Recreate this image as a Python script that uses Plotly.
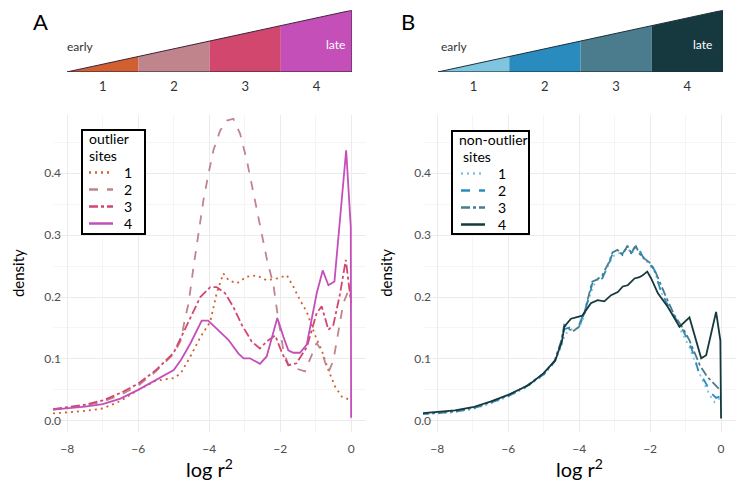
import plotly.graph_objects as go

# ---- data ----
stages = ["1", "2", "3", "4"]

out_colors = ["#D0602F", "#C0848C", "#D1476E", "#C44FB9"]
non_colors = ["#7FC5E0", "#2A8BBF", "#4A7C8E", "#15393F"]
dashes = ["2px,4px", "dash", "dashdot", "solid"]

# outlier sites (panel A)
out_x1 = [-8.4, -7.5, -7.0, -6.5, -6.0, -5.5, -5.0, -4.8, -4.53, -4.25, -3.97, -3.79, -3.6, -3.45,
          -3.22, -2.94, -2.66, -2.38, -2.09, -1.81, -1.63, -1.44, -1.25, -1.02, -0.83, -0.64,
          -0.45, -0.26, -0.12, 0.0]
out_y1 = [0.012, 0.016, 0.02, 0.032, 0.05, 0.065, 0.069, 0.077, 0.104, 0.135, 0.16, 0.206, 0.238,
          0.227, 0.222, 0.233, 0.235, 0.227, 0.23, 0.235, 0.217, 0.195, 0.176, 0.139, 0.114, 0.082,
          0.055, 0.039, 0.036, 0.03]

out_x2 = [-8.4, -7.5, -7.0, -6.5, -6.0, -5.5, -5.0, -4.8, -4.67, -4.58, -4.44, -4.30, -4.16, -4.02,
          -3.88, -3.69, -3.50, -3.32, -3.13, -2.94, -2.75, -2.56, -2.37, -2.19, -2.09, -1.91,
          -1.77, -1.58, -1.30, -1.12, -0.97, -0.83, -0.64, -0.50, -0.36, -0.22, -0.08, -0.02, 0.0]
out_y2 = [0.018, 0.025, 0.031, 0.042, 0.057, 0.08, 0.108, 0.13, 0.168, 0.19, 0.249, 0.303, 0.357,
          0.399, 0.437, 0.469, 0.485, 0.488, 0.464, 0.421, 0.367, 0.314, 0.260, 0.22, 0.179,
          0.114, 0.09, 0.085, 0.080, 0.105, 0.126, 0.112, 0.078, 0.098, 0.141, 0.19, 0.21, 0.215,
          0.18]

out_x3 = [-8.4, -7.5, -7.0, -6.5, -6.0, -5.5, -5.0, -4.53, -4.25, -3.97, -3.79, -3.55, -3.32, -3.08,
          -2.80, -2.57, -2.38, -2.14, -1.95, -1.77, -1.54, -1.25, -0.97, -0.83, -0.64, -0.50,
          -0.31, -0.15, -0.02, 0.0]
out_y3 = [0.019, 0.026, 0.033, 0.045, 0.06, 0.082, 0.11, 0.168, 0.2, 0.216, 0.216, 0.206, 0.184,
          0.155, 0.128, 0.117, 0.128, 0.138, 0.11, 0.09, 0.093, 0.119, 0.174, 0.185, 0.147, 0.155,
          0.206, 0.26, 0.2, 0.19]

out_x4 = [-8.4, -7.5, -7.0, -6.5, -6.0, -5.5, -5.0, -4.8, -4.53, -4.21, -4.03, -3.79, -3.46, -3.18,
          -3.03, -2.85, -2.57, -2.38, -2.08, -1.91, -1.77, -1.63, -1.44, -1.25, -0.97, -0.80,
          -0.64, -0.47, -0.30, -0.14, -0.01, 0.0]
out_y4 = [0.018, 0.023, 0.027, 0.036, 0.05, 0.066, 0.082, 0.098, 0.125, 0.162, 0.162, 0.149, 0.131,
          0.109, 0.101, 0.101, 0.092, 0.104, 0.166, 0.136, 0.114, 0.110, 0.110, 0.123, 0.206,
          0.243, 0.219, 0.225, 0.33, 0.437, 0.313, 0.005]

# non-outlier sites (panel B)
non_x1 = [-8.48, -7.5, -7.0, -6.5, -6.0, -5.5, -5.0, -4.7, -4.5, -4.4, -4.2, -4.0, -3.86, -3.72,
          -3.6, -3.48, -3.33, -3.18, -3.05, -2.9, -2.78, -2.62, -2.52, -2.42, -2.3, -2.16, -2.0,
          -1.86, -1.72, -1.55, -1.3, -1.1, -0.9, -0.75, -0.62, -0.48, -0.3, -0.18, 0.0]
non_y1 = [0.01, 0.014, 0.019, 0.028, 0.039, 0.054, 0.074, 0.094, 0.12, 0.14, 0.148, 0.15, 0.168,
          0.198, 0.218, 0.228, 0.232, 0.25, 0.266, 0.27, 0.274, 0.278, 0.27, 0.28, 0.274, 0.262,
          0.25, 0.24, 0.212, 0.19, 0.165, 0.142, 0.12, 0.098, 0.078, 0.06, 0.04, 0.03, 0.038]

non_x2 = [-8.48, -7.5, -7.0, -6.5, -6.0, -5.5, -5.0, -4.7, -4.5, -4.42, -4.2, -4.0, -3.86, -3.72,
          -3.63, -3.5, -3.35, -3.16, -3.06, -2.92, -2.78, -2.64, -2.54, -2.40, -2.30, -2.16,
          -2.02, -1.88, -1.74, -1.55, -1.31, -1.08, -0.89, -0.75, -0.65, -0.51, -0.28, -0.14, 0.0]
non_y2 = [0.011, 0.015, 0.02, 0.029, 0.04, 0.055, 0.075, 0.095, 0.125, 0.148, 0.152, 0.155, 0.175,
          0.2, 0.222, 0.225, 0.23, 0.254, 0.27, 0.273, 0.27, 0.281, 0.27, 0.284, 0.276, 0.26,
          0.254, 0.244, 0.217, 0.192, 0.168, 0.147, 0.125, 0.104, 0.082, 0.069, 0.045, 0.037, 0.04]

non_x3 = [-8.48, -7.5, -7.0, -6.5, -6.0, -5.5, -5.0, -4.7, -4.5, -4.42, -4.19, -4.0, -3.86, -3.72,
          -3.63, -3.5, -3.35, -3.16, -3.06, -2.92, -2.78, -2.64, -2.54, -2.40, -2.30, -2.16,
          -2.02, -1.88, -1.74, -1.55, -1.31, -1.08, -0.89, -0.75, -0.6, -0.4, -0.2, -0.08, 0.0]
non_y3 = [0.011, 0.015, 0.021, 0.03, 0.041, 0.056, 0.076, 0.096, 0.13, 0.155, 0.144, 0.152, 0.173,
          0.205, 0.225, 0.228, 0.235, 0.256, 0.272, 0.276, 0.268, 0.283, 0.272, 0.282, 0.27, 0.262,
          0.256, 0.245, 0.225, 0.2, 0.17, 0.15, 0.13, 0.11, 0.09, 0.072, 0.06, 0.052, 0.048]

non_x4 = [-8.48, -7.5, -7.0, -6.5, -6.0, -5.42, -5.0, -4.67, -4.48, -4.42, -4.23, -3.91, -3.67,
          -3.48, -3.29, -3.10, -2.91, -2.77, -2.63, -2.44, -2.30, -2.21, -2.08, -1.97, -1.78,
          -1.50, -1.17, -0.89, -0.56, -0.42, -0.28, -0.14, -0.02, 0.0]
non_y4 = [0.012, 0.017, 0.022, 0.031, 0.042, 0.058, 0.077, 0.098, 0.13, 0.152, 0.165, 0.17, 0.19,
          0.195, 0.193, 0.203, 0.208, 0.217, 0.219, 0.23, 0.232, 0.235, 0.241, 0.23, 0.206, 0.184,
          0.152, 0.167, 0.101, 0.106, 0.141, 0.176, 0.13, 0.004]

out_series = [(out_x1, out_y1), (out_x2, out_y2), (out_x3, out_y3), (out_x4, out_y4)]
non_series = [(non_x1, non_y1), (non_x2, non_y2), (non_x3, non_y3), (non_x4, non_y4)]

FONT = "Lato"
W, H = 749, 486
fig = go.Figure()

# density curves
for i, (xs, ys) in enumerate(out_series):
    fig.add_trace(go.Scatter(x=xs, y=ys, mode="lines", name=stages[i], showlegend=False,
                             line=dict(color=out_colors[i], dash=dashes[i], width=1.8),
                             xaxis="x", yaxis="y"))
for i, (xs, ys) in enumerate(non_series):
    fig.add_trace(go.Scatter(x=xs, y=ys, mode="lines", name=stages[i], showlegend=False,
                             line=dict(color=non_colors[i], dash=dashes[i], width=1.8),
                             xaxis="x2", yaxis="y2"))

# stage wedges on top
for ax, cols, edge in [("3", out_colors, "#3d233a"), ("4", non_colors, "#1c3038")]:
    n = len(stages)
    for i in range(n):
        fig.add_trace(go.Scatter(x=[i, i + 1, i + 1, i, i], y=[0, 0, (i + 1) / n, i / n, 0],
                                 fill="toself", fillcolor=cols[i], mode="lines",
                                 line=dict(width=0, color=cols[i]), showlegend=False,
                                 hoverinfo="skip", xaxis="x" + ax, yaxis="y" + ax))
    fig.add_trace(go.Scatter(x=[0, n, n, 0], y=[0, 1, 0, 0], mode="lines",
                             line=dict(color=edge, width=1), showlegend=False,
                             hoverinfo="skip", xaxis="x" + ax, yaxis="y" + ax))

main_x = dict(range=[-8.4, 0.42], tickvals=[-8, -6, -4, -2, 0],
              ticktext=["\u22128", "\u22126", "\u22124", "\u22122", "0"],
              showgrid=True, gridcolor="#EBEBEB", gridwidth=1, zeroline=False, showline=False,
              ticks="", ticklabelstandoff=8, tickfont=dict(size=12, color="#4D4D4D", family=FONT),
              minor=dict(dtick=1, tick0=0, showgrid=True, gridcolor="#F5F5F5", gridwidth=1))
main_y = dict(range=[-0.018, 0.494], tickvals=[0, 0.1, 0.2, 0.3, 0.4],
              ticktext=["0.0", "0.1", "0.2", "0.3", "0.4"],
              showgrid=True, gridcolor="#EBEBEB", gridwidth=1, zeroline=False, showline=False,
              ticks="", ticklabelstandoff=-9, tickfont=dict(size=12, color="#4D4D4D", family=FONT),
              minor=dict(dtick=0.05, tick0=0, showgrid=True, gridcolor="#F5F5F5", gridwidth=1))
inset_x = dict(range=[0, 4], tickvals=[0.5, 1.5, 2.5, 3.5], ticktext=stages, showgrid=False,
               zeroline=False, showline=False, ticks="", fixedrange=True, ticklabelstandoff=5,
               tickfont=dict(size=13, color="#333333", family=FONT))
inset_y = dict(range=[0, 1], visible=False, fixedrange=True)

fig.update_layout(
    width=W, height=H,
    margin=dict(l=0, r=0, t=0, b=0),
    paper_bgcolor="white", plot_bgcolor="white",
    font=dict(family=FONT, color="black"),
    xaxis=dict(domain=[0.0708, 0.4887], anchor="y", **main_x),
    yaxis=dict(domain=[0.1111, 0.7634], anchor="x", **main_y),
    xaxis2=dict(domain=[0.5648, 0.9826], anchor="y2", **main_x),
    yaxis2=dict(domain=[0.1111, 0.7634], anchor="x2", **main_y),
    xaxis3=dict(domain=[0.0895, 0.470], anchor="y3", **inset_x),
    yaxis3=dict(domain=[0.852, 0.979], anchor="x3", **inset_y),
    xaxis4=dict(domain=[0.5848, 0.9653], anchor="y4", **inset_x),
    yaxis4=dict(domain=[0.852, 0.979], anchor="x4", **inset_y),
    showlegend=False,
)


def px(x):
    return x / W


def py(y):
    return 1 - y / H


# hand-laid legend boxes (ggplot style: tight rows, black frame)
def add_legend(box, title_lines, title_indent, colors, key_x, label_x):
    x0, y0, x1, y1 = box
    fig.add_shape(type="rect", xref="paper", yref="paper", x0=px(x0), x1=px(x1),
                  y0=py(y1), y1=py(y0), line=dict(color="black", width=2),
                  fillcolor="white", layer="above")
    row = 17
    ty = y0 + 8.5
    for j, t in enumerate(title_lines):
        fig.add_annotation(text=t, x=px(x0 + 5 + title_indent[j]), y=py(ty + j * row),
                           xref="paper", yref="paper", xanchor="left", yanchor="middle",
                           showarrow=False, font=dict(size=14, family=FONT, color="black"))
    for i, lab in enumerate(stages):
        yy = ty + (len(title_lines) + i) * row
        fig.add_shape(type="line", xref="paper", yref="paper", x0=px(key_x[0]), x1=px(key_x[1]),
                      y0=py(yy), y1=py(yy), layer="above",
                      line=dict(color=colors[i], width=2.5, dash=dashes[i]))
        fig.add_annotation(text=lab, x=px(label_x), y=py(yy), xref="paper", yref="paper",
                           xanchor="center", yanchor="middle", showarrow=False,
                           font=dict(size=14, family=FONT, color="black"))


add_legend((82, 130, 145, 234), ["outlier", "sites"], [0, 0], out_colors, (89, 113), 128)
add_legend((452, 131, 529, 234), ["non-outlier", "sites"], [0, 4], non_colors, (461, 485), 502)

ann = [
    dict(text="A", x=0.054, y=0.955, xref="paper", yref="paper", font=dict(size=22)),
    dict(text="B", x=0.545, y=0.955, xref="paper", yref="paper", font=dict(size=22)),
    dict(text="early", x=0.0, y=0.42, xref="x3", yref="y3", xanchor="left", xshift=-2,
         font=dict(size=12, color="#333333")),
    dict(text="late", x=3.93, y=0.45, xref="x3", yref="y3", xanchor="right",
         font=dict(size=12, color="white")),
    dict(text="early", x=0.02, y=0.42, xref="x4", yref="y4", xanchor="left",
         font=dict(size=12, color="#333333")),
    dict(text="late", x=3.88, y=0.45, xref="x4", yref="y4", xanchor="right",
         font=dict(size=12, color="white")),
    dict(text="density", x=0.024, y=0.438, xref="paper", yref="paper", textangle=-90,
         font=dict(size=15)),
    dict(text="density", x=0.515, y=0.438, xref="paper", yref="paper", textangle=-90,
         font=dict(size=15)),
    dict(text="log r<sup>2</sup>", x=0.2797, y=0.037, xref="paper", yref="paper",
         font=dict(size=20)),
    dict(text="log r<sup>2</sup>", x=0.7737, y=0.037, xref="paper", yref="paper",
         font=dict(size=20)),
]
for a in ann:
    a.setdefault("showarrow", False)
    a.setdefault("xanchor", "center")
    a.setdefault("yanchor", "middle")
    a["font"].setdefault("family", FONT)
    a["font"].setdefault("color", "black")
    fig.add_annotation(**a)

fig.write_html("out.html", config={"displayModeBar": False},
               post_script="document.body.style.margin='0px';")
